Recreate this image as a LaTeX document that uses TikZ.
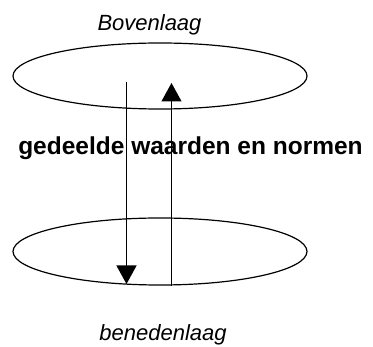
\documentclass[tikz,border=0pt]{standalone}
\usepackage{fontspec}
\setmainfont{Liberation Sans}
\usetikzlibrary{arrows.meta,shapes.geometric}
\begin{document}
\begin{tikzpicture}[x=1pt,y=-1pt,
  layer/.style={draw,line width=1.2pt,ellipse,minimum width=294pt,minimum height=66pt,inner sep=0pt},
  flow/.style={line width=1.2pt,-{Triangle[width=20pt,length=18.5pt]}},
  lbl/.style={inner sep=0pt,anchor=base,font=\fontsize{22}{26}\selectfont\itshape},
  mid/.style={inner sep=0pt,anchor=base,font=\fontsize{24.5}{28}\selectfont\bfseries}]
\useasboundingbox (0,0) rectangle (373,347);
\node[layer] (top) at (160,76) {};
\node[layer,minimum height=67pt] (bot) at (160,251.5) {};
\node[lbl] (boven) at (149.5,31) {Bovenlaag};
\node[lbl] (beneden) at (163,341) {benedenlaag};
\node[mid] (mid) at (190.5,155) {gedeelde waarden en normen};
\coordinate (dstart) at (126.5,82);
\coordinate (dend) at (126.5,284);
\coordinate (ustart) at (171.5,286);
\coordinate (uend) at (171.5,83);
\draw[flow] (dstart) -- (dend);
\draw[flow] (ustart) -- (uend);
\end{tikzpicture}
\end{document}
